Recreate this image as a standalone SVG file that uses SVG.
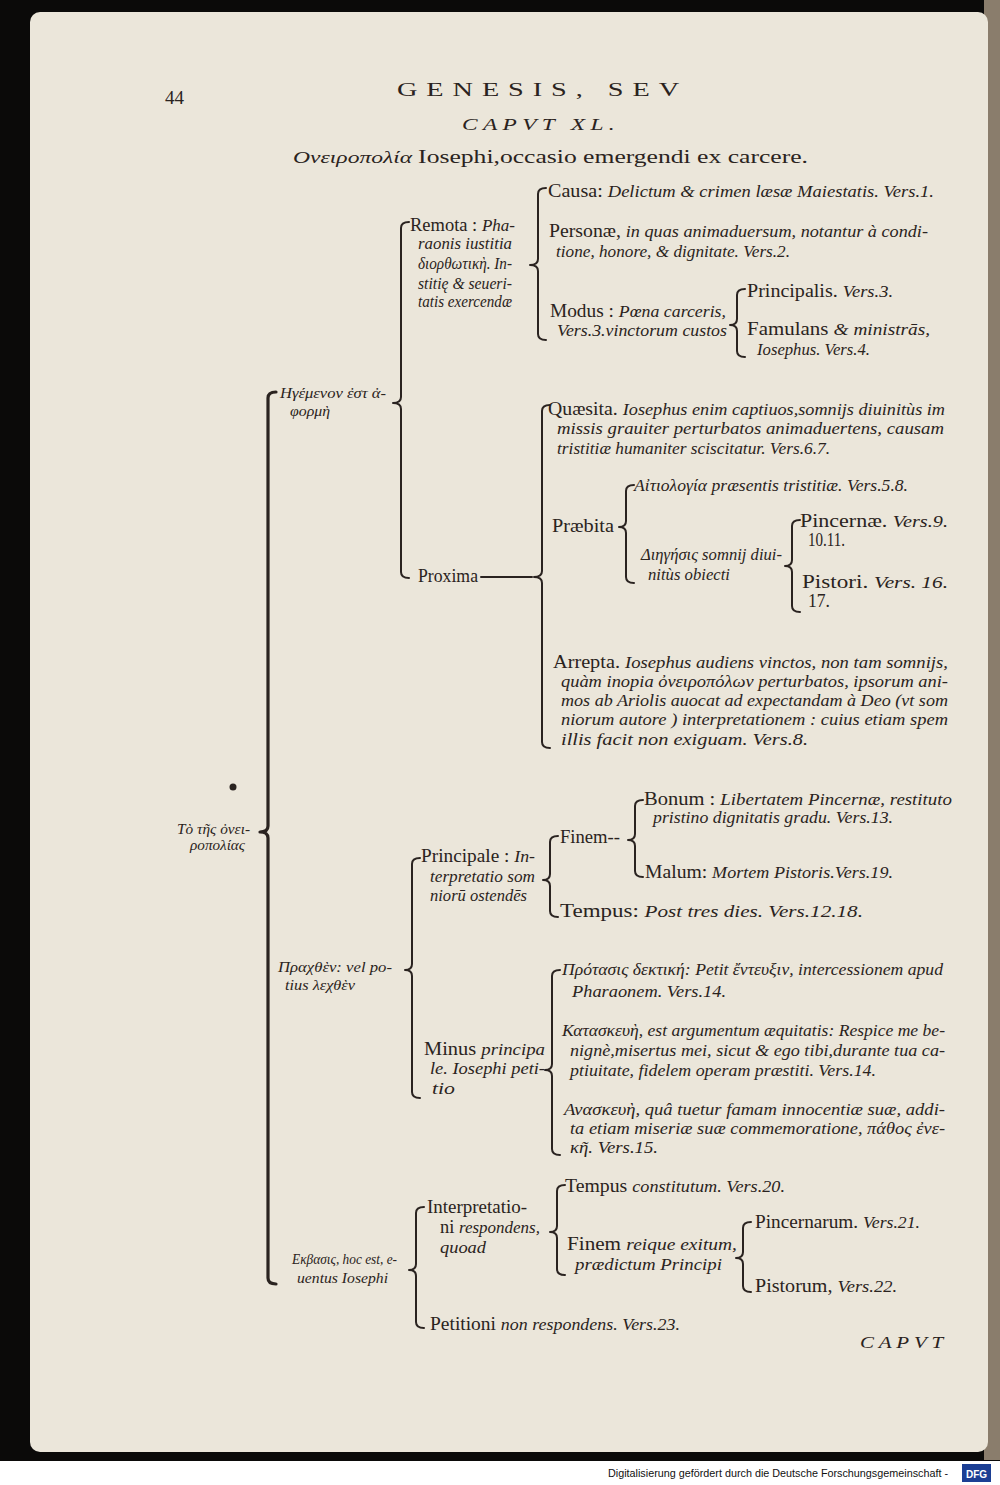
<svg xmlns="http://www.w3.org/2000/svg" width="1000" height="1485" viewBox="0 0 1000 1485">
<style>
.t{font-family:"Liberation Serif","DejaVu Serif",serif;font-size:19px;fill:#2a2320}
.i{font-style:italic;font-size:17.5px}
.s{font-size:14px;font-style:italic}
.br{fill:none;stroke:#2a2320;stroke-width:2;stroke-linecap:round;stroke-linejoin:round}
.thick{stroke-width:3.2}
</style>
<rect x="0" y="0" width="1000" height="1485" fill="#0b0a09"/>
<rect x="984" y="0" width="16" height="1460" fill="#8a7d6c"/>
<rect x="30" y="12" width="958" height="1440" rx="10" fill="#ebe6da"/>
<rect x="0" y="1461" width="1000" height="24" fill="#ffffff"/>
<g id="footer">
<text x="608" y="1477" font-family="Liberation Sans, Arial, sans-serif" font-size="10.5" fill="#111" textLength="340" lengthAdjust="spacingAndGlyphs">Digitalisierung gefördert durch die Deutsche Forschungsgemeinschaft -</text>
<rect x="962" y="1464" width="29" height="18" fill="#1c3f94"/>
<text x="966" y="1477.5" font-family="Liberation Sans, Arial, sans-serif" font-weight="bold" font-size="10" fill="#fff">DFG</text>
</g>
<g id="header">
<text class="t" x="165" y="104" font-size="22">44</text>
<text class="t" x="397" y="96" font-size="28" letter-spacing="6" textLength="291" lengthAdjust="spacingAndGlyphs">GENESIS, SEV</text>
<text class="t i" x="462" y="130" font-size="21" letter-spacing="4" textLength="158" lengthAdjust="spacingAndGlyphs">CAPVT XL.</text>
<text class="t" x="293" y="163" font-size="25" textLength="515" lengthAdjust="spacingAndGlyphs"><tspan class="i" font-size="19">Ονειροπολία </tspan>Iosephi,occasio emergendi ex carcere.</text>
<text class="t i" x="860" y="1348" font-size="19" letter-spacing="4" textLength="88" lengthAdjust="spacingAndGlyphs">CAPVT</text>
</g>
<g id="connectors">
<path class="br thick" d="M276 392 Q268 392 268 398 L268 826 Q268 832 260 832 Q268 832 268 838 L268 1278 Q268 1284 276 1284"/>
<path class="br" d="M409 222 Q401 222 401 228 L401 397 Q401 403 393 403 Q401 403 401 409 L401 572 Q401 578 409 578"/>
<path class="br" d="M546 188 Q538 188 538 194 L538 259 Q538 265 530 265 Q538 265 538 271 L538 334 Q538 340 546 340"/>
<path class="br" d="M745 289 Q737 289 737 295 L737 319 Q737 325 730 325 Q737 325 737 331 L737 351 Q737 357 745 357"/>
<path class="br" d="M550 405 Q542 405 542 411 L542 571 Q542 577 534 577 Q542 577 542 583 L542 742 Q542 748 550 748"/>
<path class="br" d="M481 577 L532 577"/>
<path class="br" d="M634 485 Q626 485 626 491 L626 521 Q626 527 619 527 Q626 527 626 533 L626 577 Q626 583 634 583"/>
<path class="br" d="M800 520 Q792 520 792 526 L792 560 Q792 566 785 566 Q792 566 792 572 L792 606 Q792 612 800 612"/>
<path class="br" d="M420 858 Q412 858 412 864 L412 964 Q412 970 405 970 Q412 970 412 976 L412 1092 Q412 1098 420 1098"/>
<path class="br" d="M558 836 Q550 836 550 842 L550 874 Q550 880 543 880 Q550 880 550 886 L550 911 Q550 917 558 917"/>
<path class="br" d="M643 800 Q635 800 635 806 L635 834 Q635 840 628 840 Q635 840 635 846 L635 871 Q635 877 643 877"/>
<path class="br" d="M560 970 Q552 970 552 976 L552 1064 Q552 1070 545 1070 Q552 1070 552 1076 L552 1149 Q552 1155 560 1155"/>
<path class="br" d="M424 1207 Q416 1207 416 1213 L416 1264 Q416 1270 409 1270 Q416 1270 416 1276 L416 1322 Q416 1328 424 1328"/>
<path class="br" d="M565 1185 Q557 1185 557 1191 L557 1226 Q557 1232 550 1232 Q557 1232 557 1238 L557 1269 Q557 1275 565 1275"/>
<path class="br" d="M751 1222 Q743 1222 743 1228 L743 1252 Q743 1258 736 1258 Q743 1258 743 1264 L743 1286 Q743 1292 751 1292"/>
</g>
<g id="root">
<circle cx="233" cy="787" r="3.5" fill="#2a2320"/>
<text class="t s" x="177" y="834" textLength="73" lengthAdjust="spacingAndGlyphs">Τὸ τῆς ὀνει-</text>
<text class="t s" x="190" y="850" textLength="55" lengthAdjust="spacingAndGlyphs">ροπολίας</text>
</g>
<g id="n-hegoumenon">
<text class="t s" x="280" y="398" textLength="106" lengthAdjust="spacingAndGlyphs">Ηγέμενον ἐστ ἀ-</text>
<text class="t s" x="290" y="416" textLength="40" lengthAdjust="spacingAndGlyphs">φορμὴ</text>
</g>
<g id="n-remota">
<text class="t" x="410" y="231" textLength="105" lengthAdjust="spacingAndGlyphs">Remota : <tspan class="i">Pha-</tspan></text>
<text class="t i" x="418" y="249" textLength="94" lengthAdjust="spacingAndGlyphs">raonis iustitia</text>
<text class="t i" x="418" y="269" textLength="94" lengthAdjust="spacingAndGlyphs">διορθωτικὴ. In-</text>
<text class="t i" x="418" y="289" textLength="94" lengthAdjust="spacingAndGlyphs">stitię &amp; seueri-</text>
<text class="t i" x="418" y="307" textLength="94" lengthAdjust="spacingAndGlyphs">tatis exercendæ</text>
</g>
<g id="n-causa">
<text class="t" x="548" y="197" textLength="386" lengthAdjust="spacingAndGlyphs">Causa: <tspan class="i">Delictum &amp; crimen læsæ Maiestatis. Vers.1.</tspan></text>
</g>
<g id="n-personae">
<text class="t" x="549" y="237" textLength="379" lengthAdjust="spacingAndGlyphs">Personæ, <tspan class="i">in quas animaduersum, notantur à condi-</tspan></text>
<text class="t i" x="556" y="257" textLength="234" lengthAdjust="spacingAndGlyphs">tione, honore, &amp; dignitate. Vers.2.</text>
</g>
<g id="n-modus">
<text class="t" x="550" y="317" textLength="176" lengthAdjust="spacingAndGlyphs">Modus : <tspan class="i">Pœna carceris,</tspan></text>
<text class="t i" x="557" y="336" textLength="170" lengthAdjust="spacingAndGlyphs">Vers.3.vinctorum custos</text>
</g>
<g id="n-principalis">
<text class="t" x="747" y="297" textLength="146" lengthAdjust="spacingAndGlyphs">Principalis. <tspan class="i">Vers.3.</tspan></text>
</g>
<g id="n-famulans">
<text class="t" x="747" y="335" textLength="183" lengthAdjust="spacingAndGlyphs">Famulans <tspan class="i">&amp; ministrās,</tspan></text>
<text class="t i" x="757" y="355" textLength="113" lengthAdjust="spacingAndGlyphs">Iosephus. Vers.4.</text>
</g>
<g id="n-proxima">
<text class="t" x="418" y="582" textLength="60" lengthAdjust="spacingAndGlyphs">Proxima</text>
</g>
<g id="n-quaesita">
<text class="t" x="548" y="415" textLength="397" lengthAdjust="spacingAndGlyphs">Quæsita. <tspan class="i">Iosephus enim captiuos,somnijs diuinitùs im</tspan></text>
<text class="t i" x="557" y="434" textLength="387" lengthAdjust="spacingAndGlyphs">missis grauiter perturbatos animaduertens, causam</text>
<text class="t i" x="557" y="454" textLength="273" lengthAdjust="spacingAndGlyphs">tristitiæ humaniter sciscitatur. Vers.6.7.</text>
</g>
<g id="n-praebita">
<text class="t" x="552" y="532" textLength="62" lengthAdjust="spacingAndGlyphs">Præbita</text>
</g>
<g id="n-aitiologia">
<text class="t i" x="634" y="491" textLength="274" lengthAdjust="spacingAndGlyphs">Αἰτιολογία præsentis tristitiæ. Vers.5.8.</text>
</g>
<g id="n-diegesis">
<text class="t i" x="641" y="560" textLength="141" lengthAdjust="spacingAndGlyphs">Διηγήσις somnij diui-</text>
<text class="t i" x="648" y="580" textLength="82" lengthAdjust="spacingAndGlyphs">nitùs obiecti</text>
</g>
<g id="n-pincernae">
<text class="t" x="800" y="527" textLength="148" lengthAdjust="spacingAndGlyphs">Pincernæ. <tspan class="i">Vers.9.</tspan></text>
<text class="t" x="808" y="546" font-size="17" textLength="37" lengthAdjust="spacingAndGlyphs">10.11.</text>
</g>
<g id="n-pistori">
<text class="t" x="802" y="588" textLength="146" lengthAdjust="spacingAndGlyphs">Pistori. <tspan class="i">Vers. 16.</tspan></text>
<text class="t" x="808" y="607" font-size="17" textLength="22" lengthAdjust="spacingAndGlyphs">17.</text>
</g>
<g id="n-arrepta">
<text class="t" x="553" y="668" textLength="395" lengthAdjust="spacingAndGlyphs">Arrepta. <tspan class="i">Iosephus audiens vinctos, non tam somnijs,</tspan></text>
<text class="t i" x="561" y="687" textLength="387" lengthAdjust="spacingAndGlyphs">quàm inopia ὀνειροπόλων perturbatos, ipsorum ani-</text>
<text class="t i" x="561" y="706" textLength="387" lengthAdjust="spacingAndGlyphs">mos ab Ariolis auocat ad expectandam à Deo (vt som</text>
<text class="t i" x="561" y="725" textLength="387" lengthAdjust="spacingAndGlyphs">niorum autore ) interpretationem : cuius etiam spem</text>
<text class="t i" x="561" y="745" textLength="247" lengthAdjust="spacingAndGlyphs">illis facit non exiguam. Vers.8.</text>
</g>
<g id="n-prachthen">
<text class="t s" x="278" y="972" textLength="114" lengthAdjust="spacingAndGlyphs">Πραχθὲν: vel po-</text>
<text class="t s" x="285" y="990" textLength="70" lengthAdjust="spacingAndGlyphs">tius λεχθὲν</text>
</g>
<g id="n-principale">
<text class="t" x="421" y="862" textLength="114" lengthAdjust="spacingAndGlyphs">Principale : <tspan class="i">In-</tspan></text>
<text class="t i" x="430" y="882" textLength="105" lengthAdjust="spacingAndGlyphs">terpretatio som</text>
<text class="t i" x="430" y="901" textLength="97" lengthAdjust="spacingAndGlyphs">niorū ostendēs</text>
</g>
<g id="n-finem1">
<text class="t" x="560" y="843" textLength="60" lengthAdjust="spacingAndGlyphs">Finem--</text>
</g>
<g id="n-bonum">
<text class="t" x="644" y="805" textLength="308" lengthAdjust="spacingAndGlyphs">Bonum : <tspan class="i">Libertatem Pincernæ, restituto</tspan></text>
<text class="t i" x="653" y="823" textLength="240" lengthAdjust="spacingAndGlyphs">pristino dignitatis gradu. Vers.13.</text>
</g>
<g id="n-malum">
<text class="t" x="645" y="878" textLength="248" lengthAdjust="spacingAndGlyphs">Malum: <tspan class="i">Mortem Pistoris.Vers.19.</tspan></text>
</g>
<g id="n-tempus1">
<text class="t" x="560" y="917" textLength="303" lengthAdjust="spacingAndGlyphs">Tempus: <tspan class="i">Post tres dies. Vers.12.18.</tspan></text>
</g>
<g id="n-minus">
<text class="t" x="424" y="1055" textLength="121" lengthAdjust="spacingAndGlyphs">Minus <tspan class="i">principa</tspan></text>
<text class="t i" x="430" y="1074" textLength="115" lengthAdjust="spacingAndGlyphs">le. Iosephi peti-</text>
<text class="t i" x="432" y="1094" textLength="23" lengthAdjust="spacingAndGlyphs">tio</text>
</g>
<g id="n-protasis">
<text class="t i" x="562" y="975" textLength="381" lengthAdjust="spacingAndGlyphs">Πρότασις δεκτική: Petit ἔντευξιν, intercessionem apud</text>
<text class="t i" x="572" y="997" textLength="154" lengthAdjust="spacingAndGlyphs">Pharaonem. Vers.14.</text>
</g>
<g id="n-kataskeue">
<text class="t i" x="562" y="1036" textLength="383" lengthAdjust="spacingAndGlyphs">Κατασκευὴ, est argumentum æquitatis: Respice me be-</text>
<text class="t i" x="570" y="1056" textLength="375" lengthAdjust="spacingAndGlyphs">nignè,misertus mei, sicut &amp; ego tibi,durante tua ca-</text>
<text class="t i" x="570" y="1076" textLength="306" lengthAdjust="spacingAndGlyphs">ptiuitate, fidelem operam præstiti. Vers.14.</text>
</g>
<g id="n-anaskeue">
<text class="t i" x="564" y="1115" textLength="381" lengthAdjust="spacingAndGlyphs">Ανασκευὴ, quâ tuetur famam innocentiæ suæ, addi-</text>
<text class="t i" x="570" y="1134" textLength="375" lengthAdjust="spacingAndGlyphs">ta etiam miseriæ suæ commemoratione, πάθος ἐνε-</text>
<text class="t i" x="570" y="1153" textLength="88" lengthAdjust="spacingAndGlyphs">κῆ. Vers.15.</text>
</g>
<g id="n-ekbasis">
<text class="t s" x="292" y="1264" textLength="105" lengthAdjust="spacingAndGlyphs">Εκβασις, hoc est, e-</text>
<text class="t s" x="297" y="1283" textLength="91" lengthAdjust="spacingAndGlyphs">uentus Iosephi</text>
</g>
<g id="n-interpretationi">
<text class="t" x="427" y="1213" textLength="100" lengthAdjust="spacingAndGlyphs">Interpretatio-</text>
<text class="t" x="440" y="1233" textLength="100" lengthAdjust="spacingAndGlyphs">ni <tspan class="i">respondens,</tspan></text>
<text class="t i" x="440" y="1253" textLength="46" lengthAdjust="spacingAndGlyphs">quoad</text>
</g>
<g id="n-tempus2">
<text class="t" x="565" y="1192" textLength="220" lengthAdjust="spacingAndGlyphs">Tempus <tspan class="i">constitutum. Vers.20.</tspan></text>
</g>
<g id="n-finem2">
<text class="t" x="567" y="1250" textLength="170" lengthAdjust="spacingAndGlyphs">Finem <tspan class="i">reique exitum,</tspan></text>
<text class="t i" x="575" y="1270" textLength="147" lengthAdjust="spacingAndGlyphs">prædictum Principi</text>
</g>
<g id="n-pincernarum">
<text class="t" x="755" y="1228" textLength="165" lengthAdjust="spacingAndGlyphs">Pincernarum. <tspan class="i">Vers.21.</tspan></text>
</g>
<g id="n-pistorum">
<text class="t" x="755" y="1292" textLength="142" lengthAdjust="spacingAndGlyphs">Pistorum, <tspan class="i">Vers.22.</tspan></text>
</g>
<g id="n-petitioni">
<text class="t" x="430" y="1330" textLength="250" lengthAdjust="spacingAndGlyphs">Petitioni <tspan class="i">non respondens. Vers.23.</tspan></text>
</g>
</svg>
